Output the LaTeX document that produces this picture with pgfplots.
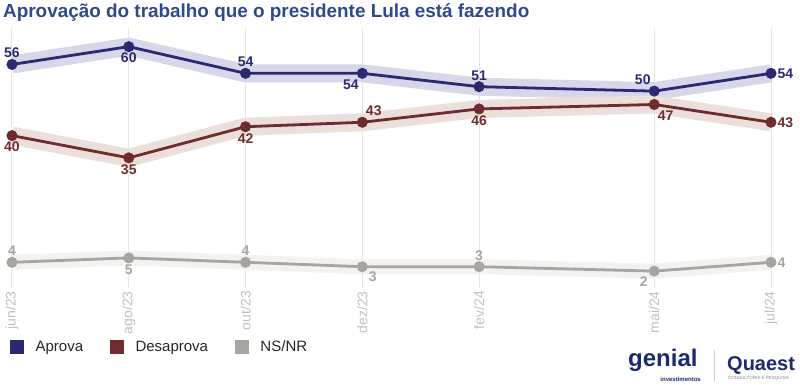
\documentclass[border=0pt]{standalone}
\usepackage{pgfplots}
\pgfplotsset{compat=1.18}
\usepackage{pgfplotstable}
\usepackage{fontspec}
\setmainfont{Liberation Sans}
\definecolor{aprova}{RGB}{43,42,112}
\definecolor{aprovaband}{RGB}{214,215,233}
\definecolor{desap}{RGB}{110,44,44}
\definecolor{desapband}{RGB}{234,223,218}
\definecolor{nsnr}{RGB}{168,164,160}
\definecolor{nsnrband}{RGB}{243,242,241}
\definecolor{titleblue}{RGB}{46,74,140}
\definecolor{gridgray}{RGB}{230,230,230}
\definecolor{ticklab}{RGB}{192,192,192}
\definecolor{logoblue}{RGB}{28,42,110}

% x = months since jun/23; pos = label anchor angle
\pgfplotstableread{
x y pos
0 56 -90
2 60 90
4 54 -90
6 54 45
8 51 -90
11 50 -45
13 54 180
}\aprovatab
\pgfplotstableread{
x y pos
0 40 90
2 35 90
4 42 90
6 43 225
8 46 90
11 47 135
13 43 180
}\desaptab
\pgfplotstableread{
x y pos
0 4 -90
2 5 90
4 4 -90
6 3 135
8 3 -90
11 2 45
13 4 180
}\nsnrtab

\pgfplotsset{
  /pgf/number format/assume math mode=true,
  lineplot/.style={line width=2.8pt, mark=*, mark size=5pt,
    mark options={fill=#1, draw=#1, line width=1pt},
    nodes near coords={\pgfmathprintnumber[fixed,precision=0,assume math mode=true]{\pgfkeysvalueof{/data point/y}}},
    point meta=explicit symbolic,
    every node near coord/.append style={anchor=\pgfplotspointmeta,
      font=\bfseries\fontsize{14}{14}\selectfont, text=#1, inner sep=6pt}},
  bandplot/.style={line width=18pt, line join=round, forget plot},
}

\begin{document}
\begin{tikzpicture}
\path[use as bounding box] (0pt,0pt) rectangle (800pt,-384pt);

\node[anchor=north west, inner sep=0pt, text=titleblue,
  font=\bfseries\fontsize{18.9}{18.9}\selectfont] at (3pt,-3pt)
  {Aprovação do trabalho que o presidente Lula está fazendo};

% background axis: grid, tick labels, legend
\begin{axis}[at={(12pt,-288pt)}, anchor=south west, scale only axis,
  width=759pt, height=260pt, xmin=0, xmax=13, ymin=0, ymax=1,
  axis line style={draw=none}, ytick=\empty,
  xtick={0,2,4,6,8,11,13},
  xticklabels={jun/23,ago/23,out/23,dez/23,fev/24,mai/24,jul/24},
  xmajorgrids, major grid style={gridgray, line width=1pt},
  major tick length=0pt,
  xticklabel style={rotate=90, anchor=east, inner sep=3pt,
    font=\fontsize{14}{14}\selectfont, text=ticklab},
  legend columns=3,
  legend style={at={(-0.0026,-0.227)}, anchor=west, draw=none, fill=none,
    inner sep=0pt, font=\fontsize{15}{15}\selectfont, text=black!85,
    nodes={inner sep=0pt},
    /tikz/every odd column/.append style={column sep=12pt},
    /tikz/every even column/.append style={column sep=27pt}},
]
\addlegendimage{legend image code/.code={\fill[aprova] (0pt,-6.5pt) rectangle (13pt,6.5pt);}}
\addlegendentry{Aprova}
\addlegendimage{legend image code/.code={\fill[desap] (0pt,-6.5pt) rectangle (13pt,6.5pt);}}
\addlegendentry{Desaprova}
\addlegendimage{legend image code/.code={\fill[nsnr] (0pt,-6.5pt) rectangle (13pt,6.5pt);}}
\addlegendentry{NS/NR}
\end{axis}

% main axis: Aprova / Desaprova
\begin{axis}[at={(12pt,-180.1pt)}, anchor=south west, scale only axis,
  width=759pt, height=155.7pt, xmin=0, xmax=13, ymin=30, ymax=65,
  hide axis, clip=false]
\addplot[bandplot, aprovaband] table[x=x,y=y]{\aprovatab};
\addplot[bandplot, desapband] table[x=x,y=y]{\desaptab};
\addplot[aprova, lineplot=aprova] table[x=x,y=y,meta=pos]{\aprovatab};
\addplot[desap, lineplot=desap] table[x=x,y=y,meta=pos]{\desaptab};
\end{axis}

% lower axis: NS/NR
\begin{axis}[at={(12pt,-279.9pt)}, anchor=south west, scale only axis,
  width=759pt, height=44pt, xmin=0, xmax=13, ymin=0, ymax=10,
  hide axis, clip=false]
\addplot[bandplot, nsnrband, line width=15pt] table[x=x,y=y]{\nsnrtab};
\addplot[nsnr, lineplot=nsnr] table[x=x,y=y,meta=pos]{\nsnrtab};
\end{axis}

% logos (as text)
\node[anchor=base west, inner sep=0pt, text=logoblue,
  font=\bfseries\fontsize{24}{24}\selectfont] at (628pt,-366pt) {genial};
\node[anchor=base east, inner sep=0pt, text=logoblue,
  font=\bfseries\fontsize{6}{6}\selectfont] at (701pt,-381pt) {investimentos};
\draw[gray!40, line width=0.8pt] (714pt,-350pt) -- (714pt,-381pt);
\node[anchor=base west, inner sep=0pt, text=logoblue,
  font=\bfseries\fontsize{20}{20}\selectfont] at (727pt,-370pt) {Quaest};
\node[anchor=base west, inner sep=0pt, text=gray,
  font=\fontsize{4.5}{4.5}\selectfont] at (728pt,-379pt) {CONSULTORIA E PESQUISA};
\end{tikzpicture}
\end{document}
